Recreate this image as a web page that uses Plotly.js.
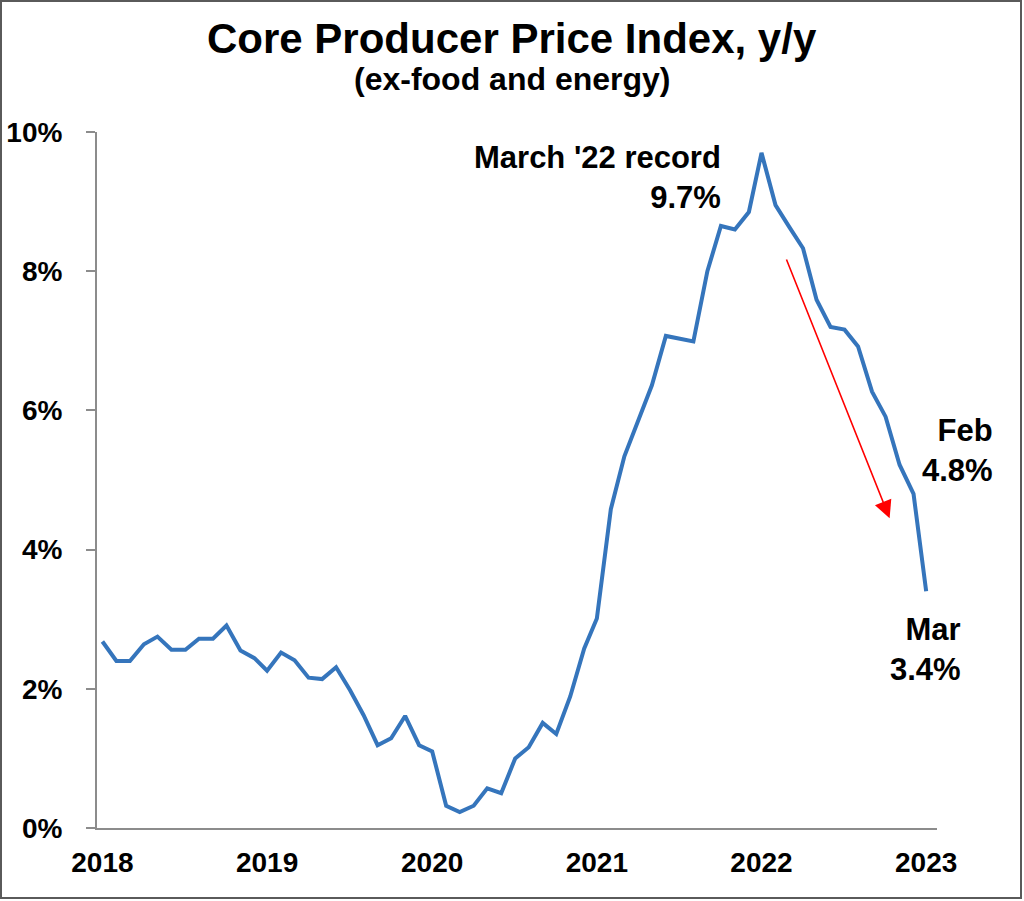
<!DOCTYPE html>
<html>
<head>
<meta charset="utf-8">
<script src="https://cdn.plot.ly/plotly-3.0.1.min.js"></script>
<style>
  html, body { margin: 0; padding: 0; background: #ffffff; }
  #wrap { position: relative; width: 1024px; height: 901px; }
  #chart { width: 1024px; height: 901px; }
  #frame { position: absolute; left: 0; top: 0; width: 1018px; height: 895px;
           border: 2px solid #5a5a5a; pointer-events: none; }
</style>
</head>
<body>
<div id="wrap">
  <div id="chart"></div>
  <div id="frame"></div>
</div>
<script>
// Monthly dates, Mar 2018 – Mar 2023
const months = [
  '2018-03-01','2018-04-01','2018-05-01','2018-06-01','2018-07-01','2018-08-01','2018-09-01','2018-10-01','2018-11-01','2018-12-01',
  '2019-01-01','2019-02-01','2019-03-01','2019-04-01','2019-05-01','2019-06-01','2019-07-01','2019-08-01','2019-09-01','2019-10-01','2019-11-01','2019-12-01',
  '2020-01-01','2020-02-01','2020-03-01','2020-04-01','2020-05-01','2020-06-01','2020-07-01','2020-08-01','2020-09-01','2020-10-01','2020-11-01','2020-12-01',
  '2021-01-01','2021-02-01','2021-03-01','2021-04-01','2021-05-01','2021-06-01','2021-07-01','2021-08-01','2021-09-01','2021-10-01','2021-11-01','2021-12-01',
  '2022-01-01','2022-02-01','2022-03-01','2022-04-01','2022-05-01','2022-06-01','2022-07-01','2022-08-01','2022-09-01','2022-10-01','2022-11-01','2022-12-01',
  '2023-01-01','2023-02-01','2023-03-01'
];
// Core PPI y/y, %
const corePPI = [
  2.68, 2.40, 2.40, 2.64, 2.75, 2.56, 2.56, 2.72, 2.72, 2.91,
  2.55, 2.44, 2.26, 2.52, 2.41, 2.16, 2.14, 2.31, 1.98, 1.62, 1.19, 1.29,
  1.61, 1.19, 1.10, 0.32, 0.23, 0.32, 0.57, 0.50, 1.00, 1.16, 1.51, 1.35,
  1.89, 2.58, 3.01, 4.58, 5.34, 5.85, 6.36, 7.07, 7.03, 6.99, 8.00, 8.65,
  8.60, 8.85, 9.70, 8.95, 8.64, 8.33, 7.59, 7.20, 7.16, 6.92, 6.27, 5.91,
  5.22, 4.80, 3.40
];
const xTickVals = ['2018-03-01','2019-03-01','2020-03-01','2021-03-01','2022-03-01','2023-03-01'];
const xTickText = ['2018','2019','2020','2021','2022','2023'];
const yTickVals = [0, 2, 4, 6, 8, 10];

const FONT = 'Liberation Sans, Arial, sans-serif';

const trace = {
  x: months,
  y: corePPI,
  type: 'scatter',
  mode: 'lines',
  line: { color: '#3575BC', width: 4 },
  hoverinfo: 'x+y'
};

const layout = {
  width: 1024,
  height: 901,
  margin: { l: 97, r: 87, t: 132, b: 73 },
  paper_bgcolor: '#ffffff',
  plot_bgcolor: '#ffffff',
  showlegend: false,
  font: { family: FONT, color: '#000000' },
  xaxis: {
    type: 'date',
    range: ['2018-02-17', '2023-03-25'],
    tickvals: xTickVals,
    ticktext: xTickText,
    ticks: '',
    showgrid: false,
    zeroline: false,
    showline: true,
    linecolor: '#8c8c8c',
    linewidth: 2,
    tickfont: { family: FONT, size: 28, color: '#000000', weight: 'bold' },
    ticklabelstandoff: 8
  },
  yaxis: {
    range: [0, 10],
    tickvals: yTickVals,
    ticktext: yTickVals.map(v => v + '%'),
    ticks: 'outside',
    ticklen: 9,
    tickwidth: 2,
    tickcolor: '#8c8c8c',
    showgrid: false,
    zeroline: false,
    showline: true,
    linecolor: '#8c8c8c',
    linewidth: 2,
    tickfont: { family: FONT, size: 28, color: '#000000', weight: 'bold' },
    ticklabelstandoff: 18
  },
  annotations: [
    { xref: 'paper', yref: 'paper', x: (512 - 97) / 840, y: 1 + (132 - 38) / 696,
      text: '<b>Core Producer Price Index, y/y</b>', showarrow: false,
      xanchor: 'center', yanchor: 'middle', font: { family: FONT, size: 42, color: '#000' } },
    { xref: 'paper', yref: 'paper', x: (512 - 97) / 840, y: 1 + (132 - 79) / 696,
      text: '<b>(ex-food and energy)</b>', showarrow: false,
      xanchor: 'center', yanchor: 'middle', font: { family: FONT, size: 32, color: '#000' } },
    { xref: 'paper', yref: 'paper', x: (723 - 97) / 840, y: 1 - (177 - 132) / 696,
      text: "<b>March '22 record</b><br><b>9.7%</b>", showarrow: false, align: 'right',
      xanchor: 'right', yanchor: 'middle', font: { family: FONT, size: 31, color: '#000' } },
    { xref: 'paper', yref: 'paper', x: (995 - 97) / 840, y: 1 - (451 - 132) / 696,
      text: '<b>Feb</b><br><b>4.8%</b>', showarrow: false, align: 'right',
      xanchor: 'right', yanchor: 'middle', font: { family: FONT, size: 31, color: '#000' } },
    { xref: 'paper', yref: 'paper', x: (963 - 97) / 840, y: 1 - (649 - 132) / 696,
      text: '<b>Mar</b><br><b>3.4%</b>', showarrow: false, align: 'right',
      xanchor: 'right', yanchor: 'middle', font: { family: FONT, size: 31, color: '#000' } },
    { xref: 'x', yref: 'y', axref: 'x', ayref: 'y',
      x: '2022-12-10', y: 4.45, ax: '2022-04-24', ay: 8.19,
      text: '', showarrow: true, arrowhead: 2, arrowsize: 2.2, arrowwidth: 1.6,
      arrowcolor: '#ff0000', standoff: 0 }
  ]
};

Plotly.newPlot('chart', [trace], layout, { displayModeBar: false, staticPlot: true });
</script>
</body>
</html>
